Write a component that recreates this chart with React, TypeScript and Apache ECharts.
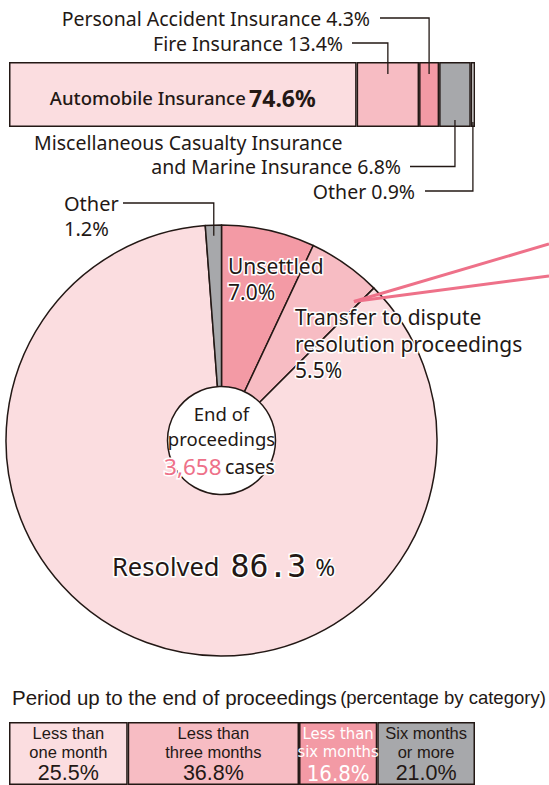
import React, { useEffect, useRef } from "react";
import * as echarts from "echarts";

// ---------- data ----------
const insuranceCategories = [
  "Automobile Insurance",
  "Fire Insurance",
  "Personal Accident Insurance",
  "Miscellaneous Casualty Insurance and Marine Insurance",
  "Other",
];
const insuranceShares = [74.6, 13.4, 4.3, 6.8, 0.9];

const outcomeNames = [
  "Unsettled",
  "Transfer to dispute resolution proceedings",
  "Resolved",
  "Other",
];
const outcomeShares = [7.0, 5.5, 86.3, 1.2];
const totalCases = "3,658";

const periodLabels = [
  "Less than\none month",
  "Less than\nthree months",
  "Less than\nsix months",
  "Six months\nor more",
];
const periodShares = [25.5, 36.8, 16.8, 21.0];

// ---------- styles ----------
const DARK = "#231815";
const PALE = "#fbdde0";
const LIGHT = "#f7bcc3";
const MID = "#f39aa5";
const GRAY = "#a7a8ab";
const ACCENT = "#ee7189";
const FONT = "'Noto Sans', 'Open Sans', sans-serif";
const ARIAL = "'Liberation Sans', Arial, sans-serif";
const NARROW = "'Liberation Sans Narrow', 'DejaVu Sans Condensed', sans-serif";
const MONO = "'DejaVu Sans Mono', 'Liberation Mono', monospace";

const insColors = [PALE, LIGHT, MID, GRAY, "#ffffff"];
const outcomeColors = [MID, LIGHT, PALE, GRAY];
const periodColors = [PALE, LIGHT, MID, GRAY];

const PIE_C = [221.5, 440.5];
const PIE_R = 215.5;

const sum = (a: number[]) => Math.round(a.reduce((s, v) => s + v, 0) * 10) / 10;

export default function App() {
  const ref = useRef<HTMLDivElement>(null);
  useEffect(() => {
    if (!ref.current) return;
    const chart = echarts.init(ref.current, undefined, { renderer: "svg" });
    const insTotal = sum(insuranceShares);
    const perTotal = sum(periodShares);

    const topSeries = insuranceShares.map((v, i) => ({
      type: "bar",
      name: insuranceCategories[i],
      xAxisIndex: 0,
      yAxisIndex: 0,
      stack: "ins",
      data: [v],
      barWidth: "100%",
      silent: true,
      itemStyle: { color: insColors[i], borderColor: DARK, borderWidth: 1.5 },
      label:
        i === 0
          ? {
              show: true,
              position: "inside",
              offset: [0, 3],
              formatter: `{a|${insuranceCategories[0]}} {b|${v.toFixed(1)}%}`,
              rich: {
                a: { fontFamily: FONT, fontSize: 18.5, fontWeight: 500, color: DARK },
                b: { fontFamily: FONT, fontSize: 23, fontWeight: "bold", color: DARK },
              },
            }
          : { show: false },
    }));

    const bottomSeries = periodShares.map((v, i) => {
      const [l1, l2] = periodLabels[i].split("\n");
      const white = i === 2;
      const fam = white ? NARROW : ARIAL;
      const col = white ? "#ffffff" : DARK;
      return {
        type: "bar",
        name: periodLabels[i].replace("\n", " "),
        xAxisIndex: 1,
        yAxisIndex: 1,
        stack: "per",
        data: [v],
        barWidth: "100%",
        silent: true,
        itemStyle: { color: periodColors[i], borderColor: DARK, borderWidth: 1.5 },
        label: {
          show: true,
          position: "inside",
          offset: [0, 1],
          formatter: `{t|${l1}}\n{t|${l2}}\n{p|${v.toFixed(1)}%}`,
          rich: {
            t: { fontFamily: fam, fontSize: 16.5, color: col, lineHeight: 18.5 },
            p: { fontFamily: fam, fontSize: white ? 22 : 21.5, color: col, lineHeight: 24 },
          },
        },
      };
    });

    chart.setOption({
      animation: false,
      grid: [
        { left: 9, top: 62, width: 466, height: 65 },
        { left: 9, top: 722, width: 466, height: 68 },
      ],
      xAxis: [
        { gridIndex: 0, type: "value", min: 0, max: insTotal, show: false },
        { gridIndex: 1, type: "value", min: 0, max: perTotal, show: false },
      ],
      yAxis: [
        { gridIndex: 0, type: "category", data: ["share"], show: false },
        { gridIndex: 1, type: "category", data: ["share"], show: false },
      ],
      series: [
        ...topSeries,
        ...bottomSeries,
        {
          type: "pie",
          center: PIE_C,
          radius: [0, PIE_R],
          startAngle: 90,
          clockwise: true,
          silent: true,
          label: { show: false },
          labelLine: { show: false },
          itemStyle: { borderColor: DARK, borderWidth: 1.5 },
          data: outcomeShares.map((v, i) => ({
            name: outcomeNames[i],
            value: v,
            itemStyle: { color: outcomeColors[i] },
          })),
        },
      ],
    });

    // ----- annotations computed from the library's scales -----
    const cumIns: number[] = [];
    insuranceShares.reduce((s, v) => (cumIns.push(s), s + v), 0);
    const midX = (i: number) =>
      chart.convertToPixel({ gridIndex: 0 }, [cumIns[i] + insuranceShares[i] / 2, "share"])[0];

    const pieTotal = sum(outcomeShares);
    const cumOut: number[] = [];
    outcomeShares.reduce((s, v) => (cumOut.push(s), s + v), 0);
    const piePoint = (frac: number, r: number) => {
      const a = (frac / pieTotal) * Math.PI * 2;
      return [PIE_C[0] + r * Math.sin(a), PIE_C[1] - r * Math.cos(a)];
    };

    const txt = (x: number, y: number, text: string, extra: any = {}) => ({
      type: "text",
      x,
      y,
      z: 120,
      style: {
        text,
        fontFamily: FONT,
        fontSize: 19.5,
        fill: DARK,
        verticalAlign: "middle",
        ...extra,
      },
    });
    const halo = { stroke: "#fff", lineWidth: 3, fontSize: 21 };
    const right = { align: "right" };
    const line = (points: number[][], color = DARK, w = 1.3) => ({
      type: "polyline",
      z: 110,
      shape: { points },
      style: { stroke: color, lineWidth: w, fill: "none" },
    });

    const xP = midX(2);
    const xF = midX(1);
    const xM = midX(3);
    const xO = midX(4);

    const otherPt = piePoint(pieTotal - outcomeShares[3] / 2, 205);
    const transferPt = piePoint(cumOut[1] + outcomeShares[1] * 0.93, 192);

    chart.setOption({
      graphic: [
        // top bar labels
        txt(370, 18, `${insuranceCategories[2]} ${insuranceShares[2].toFixed(1)}%`, right),
        line([[380, 18], [xP, 18], [xP, 74]]),
        txt(343, 43, `${insuranceCategories[1]} ${insuranceShares[1].toFixed(1)}%`, right),
        line([[352, 43], [xF, 43], [xF, 74]]),
        txt(34, 142.5, "Miscellaneous Casualty Insurance"),
        txt(401, 166.5, `and Marine Insurance ${insuranceShares[3].toFixed(1)}%`, right),
        line([[410, 166.5], [xM, 166.5], [xM, 120]]),
        txt(415, 191, `${insuranceCategories[4]} ${insuranceShares[4].toFixed(1)}%`, right),
        line([[425, 191], [xO, 191], [xO, 122]]),
        // pie labels
        txt(64, 203, outcomeNames[3], { fontSize: 20 }),
        txt(64, 228, `${outcomeShares[3].toFixed(1)}%`, { fontSize: 20 }),
        line([[123, 203], [otherPt[0], 203], [otherPt[0], otherPt[1]]]),
        txt(228, 265.5, outcomeNames[0], halo),
        txt(228, 291.5, `${outcomeShares[0].toFixed(1)}%`, halo),
        line([[transferPt[0], transferPt[1]], [549, 244]], ACCENT, 3),
        line([[transferPt[0], transferPt[1]], [549, 276]], ACCENT, 3),
        txt(295, 317, "Transfer to dispute", halo),
        txt(295, 343.5, "resolution proceedings", halo),
        txt(295, 369.5, `${outcomeShares[1].toFixed(1)}%`, halo),
        // center circle
        {
          type: "circle",
          z: 105,
          shape: { cx: PIE_C[0], cy: PIE_C[1], r: 54 },
          style: { fill: "#fff", stroke: DARK, lineWidth: 1.5 },
        },
        txt(PIE_C[0], 413, "End of", { align: "center", fontSize: 18.5 }),
        txt(PIE_C[0], 438, "proceedings", { align: "center", fontSize: 18.5 }),
        {
          type: "text",
          x: PIE_C[0] - 2,
          y: 466,
          z: 120,
          style: {
            text: `{n|${totalCases}} {c|cases}`,
            align: "center",
            verticalAlign: "middle",
            stroke: "#fff",
            lineWidth: 3,
            rich: {
              n: { fontFamily: FONT, fontSize: 22.5, fill: ACCENT, color: ACCENT },
              c: { fontFamily: FONT, fontSize: 19.5, fill: DARK, color: DARK },
            },
          },
        },
        {
          type: "text",
          x: 112,
          y: 566,
          z: 120,
          style: {
            text: `{a|${outcomeNames[2]}}{b|${outcomeShares[2].toFixed(1)}}{c|%}`,
            align: "left",
            verticalAlign: "middle",
            stroke: "#fff",
            lineWidth: 3,
            rich: {
              a: { fontFamily: FONT, fontSize: 25.5, fill: DARK, color: DARK },
              b: {
                fontFamily: MONO,
                fontSize: 31.5,
                fill: DARK,
                color: DARK,
                padding: [0, 9, 0, 11],
              },
              c: { fontFamily: FONT, fontSize: 24, fill: DARK, color: DARK },
            },
          },
        },
        // bottom title
        {
          type: "text",
          x: 12,
          y: 697,
          z: 120,
          style: {
            text: "{a|Period up to the end of proceedings} {b|(percentage by category)}",
            verticalAlign: "middle",
            rich: {
              a: { fontFamily: ARIAL, fontSize: 20.5, fill: DARK, color: DARK },
              b: { fontFamily: ARIAL, fontSize: 18.5, fill: DARK, color: DARK },
            },
          },
        },
      ],
    });

    return () => chart.dispose();
  }, []);
  return (
    <div
      ref={ref}
      style={{ position: "fixed", left: 0, top: 0, width: 549, height: 785, background: "#fff" }}
    />
  );
}
